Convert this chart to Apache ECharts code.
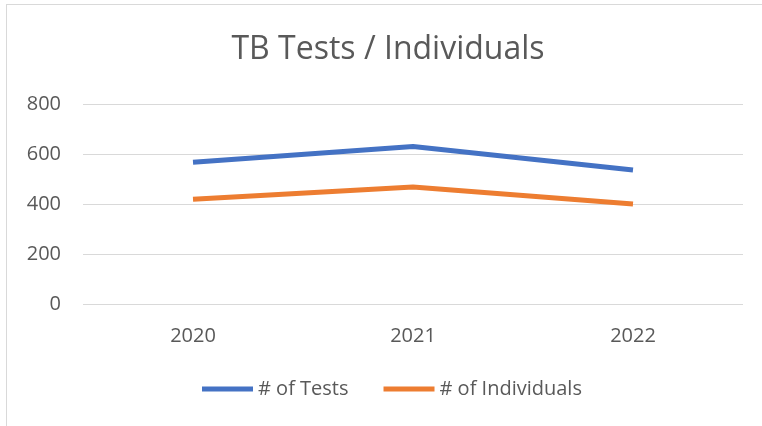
<!DOCTYPE html>
<html>
<head>
<meta charset="utf-8">
<script src="https://cdn.jsdelivr.net/npm/echarts@6/dist/echarts.min.js"></script>
<style>
html,body{margin:0;padding:0;background:#fff;}
#chart{width:762px;height:426px;}
</style>
</head>
<body>
<div id="chart"></div>
<script>
const categories = ['2020', '2021', '2022'];
const testsValues = [567, 630, 536];
const individualsValues = [419, 468, 400];
const seriesNames = ['# of Tests', '# of Individuals'];

const chart = echarts.init(document.getElementById('chart'), null, {renderer: 'canvas'});
const font = 'Open Sans';
chart.setOption({
  backgroundColor: '#ffffff',
  animation: false,
  title: {
    text: 'TB Tests / Individuals',
    left: 388,
    textAlign: 'center',
    top: 34,
    padding: 0,
    textStyle: {fontFamily: font, fontSize: 32, fontWeight: 'normal', color: '#595959'}
  },
  graphic: [
    {type: 'line', shape: {x1: 6, y1: 4.5, x2: 762, y2: 4.5}, style: {stroke: '#d9d9d9', lineWidth: 1}},
    {type: 'line', shape: {x1: 6.5, y1: 4, x2: 6.5, y2: 426}, style: {stroke: '#d9d9d9', lineWidth: 1}}
  ],
  legend: {
    data: seriesNames,
    left: 202,
    top: 379,
    padding: 0,
    icon: 'rect',
    itemWidth: 51,
    itemHeight: 5,
    itemGap: 35,
    textStyle: {fontFamily: font, fontSize: 20, color: '#595959'}
  },
  grid: {left: 83, right: 19, top: 104, bottom: 122},
  xAxis: {
    type: 'category',
    data: categories,
    boundaryGap: true,
    axisLine: {show: false},
    axisTick: {show: false},
    axisLabel: {fontFamily: font, fontSize: 20, color: '#595959', margin: 22}
  },
  yAxis: {
    type: 'value',
    min: 0,
    max: 800,
    interval: 200,
    axisLine: {show: false},
    axisTick: {show: false},
    axisLabel: {fontFamily: font, fontSize: 20, color: '#595959', margin: 22},
    splitLine: {show: true, lineStyle: {color: '#d9d9d9', width: 1}}
  },
  series: [
    {name: seriesNames[0], type: 'line', data: testsValues, showSymbol: false, symbol: 'none',
     lineStyle: {width: 5, color: '#4472C4'}, itemStyle: {color: '#4472C4'}},
    {name: seriesNames[1], type: 'line', data: individualsValues, showSymbol: false, symbol: 'none',
     lineStyle: {width: 5, color: '#ED7D31'}, itemStyle: {color: '#ED7D31'}}
  ]
});
</script>
</body>
</html>
